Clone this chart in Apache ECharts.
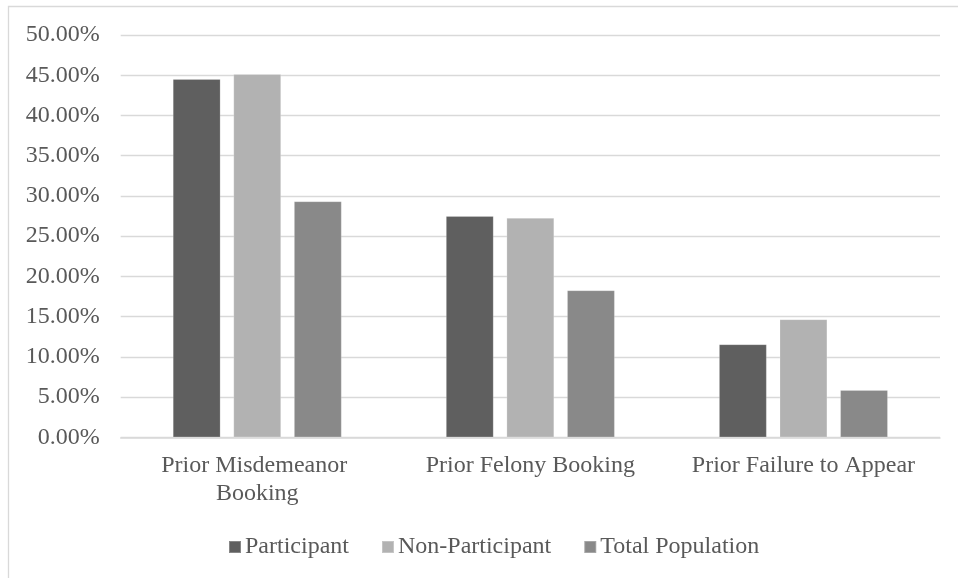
<!DOCTYPE html>
<html>
<head>
<meta charset="utf-8">
<script src="https://cdn.jsdelivr.net/npm/echarts@6/dist/echarts.min.js"></script>
<style>
  html, body { margin: 0; padding: 0; background: #fff; }
  #chart { width: 958px; height: 578px; }
</style>
</head>
<body>
<div id="chart"></div>
<script>
// Categories and values (percent)
const categories = ['Prior Misdemeanor Booking', 'Prior Felony Booking', 'Prior Failure to Appear'];
const participant = [44.53, 27.50, 11.56];
const nonParticipant = [45.15, 27.26, 14.67];
const totalPopulation = [29.33, 18.27, 5.88];
const seriesNames = ['Participant', 'Non-Participant', 'Total Population'];
const yTicks = { min: 0, max: 50, interval: 5 };

const font = '"Liberation Serif", "Times New Roman", serif';
const textColor = '#595959';
const gridColor = '#d9d9d9';

const chart = echarts.init(document.getElementById('chart'), null, { renderer: 'canvas' });

function barSeries(name, data, color) {
  return {
    name: name,
    type: 'bar',
    data: data,
    barWidth: 47.7,
    barGap: '27%',
    itemStyle: { color: color, borderColor: 'rgba(255,255,255,0.25)', borderWidth: 0.8 },
    emphasis: { disabled: true }
  };
}

chart.setOption({
  animation: false,
  backgroundColor: '#ffffff',
  graphic: [{
    type: 'rect',
    shape: { x: 8.5, y: 6.5, width: 1000, height: 620 },
    style: { fill: 'none', stroke: gridColor, lineWidth: 1.3 },
    silent: true
  }],
  grid: { left: 120.7, right: 18, top: 35, bottom: 140.7, containLabel: false },
  legend: {
    bottom: 14,
    left: 223,
    itemWidth: 12,
    itemHeight: 12,
    itemGap: 32,
    icon: 'rect',
    textStyle: { fontFamily: font, fontSize: 24, color: textColor, padding: [0, 0, 0, -1] },
    data: seriesNames
  },
  xAxis: {
    type: 'category',
    data: categories,
    axisLine: { show: true, lineStyle: { color: gridColor, width: 1.5 } },
    axisTick: { show: false },
    axisLabel: {
      interval: 0,
      margin: 14,
      width: 250,
      overflow: 'break',
      fontFamily: font,
      fontSize: 24,
      lineHeight: 28,
      color: textColor
    }
  },
  yAxis: {
    type: 'value',
    min: yTicks.min,
    max: yTicks.max,
    interval: yTicks.interval,
    axisLine: { show: false },
    axisTick: { show: false },
    splitLine: { lineStyle: { color: gridColor, width: 1.3 } },
    axisLabel: {
      margin: 21,
      fontFamily: font,
      fontSize: 24,
      color: textColor,
      formatter: v => v.toFixed(2) + '%'
    }
  },
  series: [
    barSeries(seriesNames[0], participant, '#5f5f5f'),
    barSeries(seriesNames[1], nonParticipant, '#b2b2b2'),
    barSeries(seriesNames[2], totalPopulation, '#898989')
  ]
});
</script>
</body>
</html>
